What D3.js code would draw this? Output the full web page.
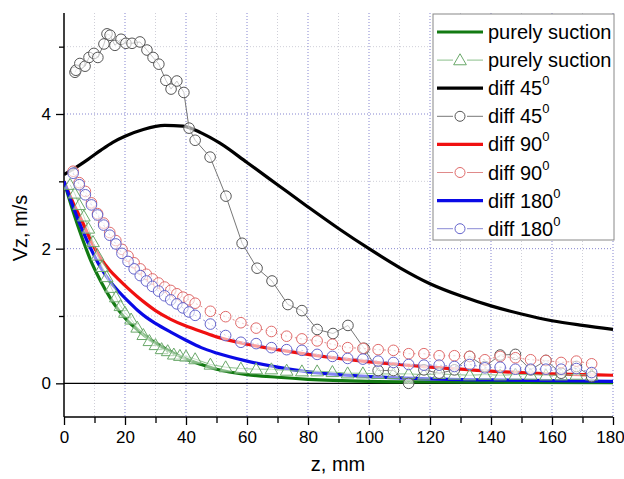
<!DOCTYPE html>
<html><head><meta charset="utf-8">
<script src="https://cdn.jsdelivr.net/npm/d3@7/dist/d3.min.js"></script>
<style>body{margin:0;background:#fff}svg{display:block;font-family:"Liberation Sans",Arial,sans-serif}</style>
</head><body><svg id="c" width="624" height="479"></svg>
<script>
// ---- data ----
const xTicks = [0,20,40,60,80,100,120,140,160,180];
const yTicks = [0,2,4];
const legendLabels = ["purely suction","purely suction","diff 45","diff 45","diff 90","diff 90","diff 180","diff 180"];
const legendSup = ["","","0","0","0","0","0","0"];

// solid model curves
const suctionLineZ = [0,3,6,9,12,15,18,21,24,27,30,35,40,45,50,60,70,80,100,120,150,180];
const suctionLineV = [3.0,2.55,2.15,1.8,1.52,1.28,1.08,0.92,0.8,0.69,0.6,0.47,0.36,0.28,0.21,0.13,0.09,0.06,0.03,0.02,0.012,0.01];
const diff45LineZ = [0,3,8,12,16,20,26,33,39,45,51,60,70,80,90,100,110,120,130,140,150,160,170,180];
const diff45LineV = [3.1,3.18,3.33,3.46,3.58,3.67,3.77,3.83,3.82,3.72,3.57,3.28,2.95,2.62,2.3,2.0,1.72,1.48,1.3,1.15,1.03,0.93,0.86,0.8];
const diff90LineZ = [0,3,6,9,12,15,18,21,24,27,30,35,40,45,50,60,70,80,90,100,110,120,130,140,150,160,170,180];
const diff90LineV = [3.0,2.68,2.4,2.1,1.86,1.68,1.54,1.41,1.29,1.18,1.08,0.95,0.85,0.77,0.69,0.58,0.5,0.43,0.37,0.32,0.28,0.24,0.21,0.18,0.16,0.14,0.13,0.12];
const diff180LineZ = [0,3,6,9,12,15,18,21,24,27,30,35,40,45,50,60,70,80,90,100,110,120,140,160,180];
const diff180LineV = [3.0,2.62,2.28,1.98,1.72,1.52,1.36,1.22,1.09,0.98,0.89,0.76,0.64,0.53,0.45,0.33,0.24,0.17,0.13,0.1,0.08,0.065,0.05,0.04,0.03];

// measured points
const suctionPtsZ = [2,3.5,5,6.5,8,9.5,11,12.5,14,15.5,17,18.5,20,22,24,26,28,30,32,34,36,38,40,43,48,53,58,63,68,73,78,83,88,93,98,103,108,113,118,123,128,133,138,143,148,153,158,163,168,173];
const suctionPtsV = [2.95,2.82,2.65,2.48,2.3,2.1,1.9,1.73,1.58,1.42,1.28,1.15,1.05,0.95,0.83,0.72,0.63,0.57,0.51,0.48,0.43,0.41,0.4,0.36,0.28,0.24,0.22,0.21,0.21,0.19,0.18,0.18,0.17,0.15,0.15,0.14,0.14,0.14,0.13,0.14,0.13,0.12,0.13,0.12,0.13,0.13,0.12,0.12,0.13,0.12];
const diff45PtsZ = [3.6,3.9,5.2,6.9,8.2,9.8,11.1,13.1,14.1,15.1,16.7,18.7,20.3,22.3,24.9,27.2,29.2,31.1,33.4,35.1,37.0,39.3,41.0,43.0,47.9,53.1,58.4,63.3,68.2,73.4,78.0,83.0,88.2,93.1,98.4,103,108,113,118,123,128,133,138,143,148,153,158,163,168,173];
const diff45PtsV = [4.62,4.65,4.75,4.71,4.84,4.9,4.84,5.04,5.19,5.17,5.02,5.11,5.05,5.05,5.07,4.95,4.84,4.74,4.5,4.37,4.49,4.32,3.79,3.61,3.36,2.78,2.08,1.71,1.52,1.17,1.08,0.8,0.74,0.86,0.52,0.19,0.19,0.0,0.2,0.15,0.2,0.4,0.25,0.42,0.43,0.2,0.34,0.15,0.25,0.1];
const diff90PtsZ = [3,5,7,9,11,13,15,17,19,21,23,25,27,29,31,33,35,37,39,41,43,48,53,58,63,68,73,78,83,88,93,98,103,108,113,118,123,128,133,138,143,148,153,158,163,168,173];
const diff90PtsV = [3.15,2.98,2.85,2.68,2.52,2.38,2.24,2.12,1.99,1.89,1.79,1.7,1.62,1.55,1.49,1.43,1.38,1.33,1.28,1.24,1.19,1.07,0.99,0.9,0.82,0.77,0.7,0.66,0.63,0.58,0.53,0.52,0.5,0.49,0.44,0.44,0.41,0.41,0.4,0.35,0.4,0.38,0.35,0.34,0.31,0.33,0.29];
const diff180PtsZ = [3,5,7,9,11,13,15,17,19,21,23,25,27,29,31,33,35,37,39,41,43,48,53,58,63,68,73,78,83,88,93,98,103,108,113,118,123,128,133,138,143,148,153,158,163,168,173];
const diff180PtsV = [3.12,2.95,2.8,2.65,2.5,2.35,2.2,2.07,1.93,1.81,1.7,1.6,1.52,1.44,1.37,1.3,1.24,1.18,1.12,1.06,1.01,0.88,0.71,0.61,0.59,0.53,0.5,0.49,0.43,0.4,0.37,0.36,0.33,0.31,0.28,0.27,0.27,0.25,0.28,0.23,0.24,0.21,0.21,0.21,0.21,0.22,0.16];

// ---- layout ----
const svg = d3.select("#c");
const L = 64, R = 613, T = 13, B = 417;
const x = d3.scaleLinear().domain([0,180]).range([L,R]);
const y = d3.scaleLinear().domain([-0.5,5.5]).range([B,T]);
const zip = (zs,vs) => zs.map((z,i)=>({z, v:vs[i]}));

svg.append("defs").append("clipPath").attr("id","clip")
  .append("rect").attr("x",L).attr("y",T).attr("width",R-L).attr("height",B-T);

// grid
const g = svg.append("g");
d3.range(10,180,20).forEach(v=>g.append("line").attr("x1",x(v)).attr("x2",x(v)).attr("y1",T).attr("y2",B)
  .attr("stroke","#cfcfd8").attr("stroke-width",1).attr("stroke-dasharray","1,2"));
[1,3,5].forEach(v=>g.append("line").attr("x1",L).attr("x2",R).attr("y1",y(v)).attr("y2",y(v))
  .attr("stroke","#cfcfd8").attr("stroke-width",1).attr("stroke-dasharray","1,2"));
d3.range(20,181,20).forEach(v=>g.append("line").attr("x1",x(v)).attr("x2",x(v)).attr("y1",T).attr("y2",B)
  .attr("stroke","#8585d0").attr("stroke-width",1).attr("stroke-dasharray","1,2"));
[2,4].forEach(v=>g.append("line").attr("x1",L).attr("x2",R).attr("y1",y(v)).attr("y2",y(v))
  .attr("stroke","#8585d0").attr("stroke-width",1).attr("stroke-dasharray","1,2"));
// zero line
g.append("line").attr("x1",L).attr("x2",R).attr("y1",y(0)).attr("y2",y(0)).attr("stroke","#000").attr("stroke-width",1.2);

// axes
const xAxis = d3.axisBottom(x).tickValues(xTicks).tickSize(8).tickPadding(6).tickFormat(d3.format("d"));
const ax = svg.append("g").attr("transform",`translate(0,${B})`).call(xAxis);
ax.selectAll("line").attr("stroke","#000").attr("stroke-width",1.3);
ax.select(".domain").attr("d",`M${L},0H${R}`).attr("stroke","#000").attr("stroke-width",1.5);
ax.selectAll("text").attr("font-size",17).attr("font-family","Liberation Sans, Arial").attr("fill","#000");
ax.selectAll(".tick").filter(d=>d===180).select("text").attr("dx",-3);
const axm = svg.append("g").attr("transform",`translate(0,${B})`)
  .call(d3.axisBottom(x).tickValues(d3.range(10,180,20)).tickSize(6).tickFormat(""));
axm.select(".domain").remove();
axm.selectAll("line").attr("stroke","#000").attr("stroke-width",1.3);

const yAxis = d3.axisLeft(y).tickValues(yTicks).tickSize(8).tickPadding(5).tickFormat(d3.format("d"));
const ay = svg.append("g").attr("transform",`translate(${L},0)`).call(yAxis);
ay.select(".domain").attr("d",`M0,${T}V${B}`).attr("stroke","#000").attr("stroke-width",1.5);
ay.selectAll("line").attr("stroke","#000").attr("stroke-width",1.3);
ay.selectAll("text").attr("font-size",17).attr("font-family","Liberation Sans, Arial").attr("fill","#000");
const aym = svg.append("g").attr("transform",`translate(${L},0)`)
  .call(d3.axisLeft(y).tickValues([1,3,5]).tickSize(5).tickFormat(""));
aym.select(".domain").remove();
aym.selectAll("line").attr("stroke","#000").attr("stroke-width",1.3);

// titles
svg.append("text").attr("x",338).attr("y",471).attr("text-anchor","middle").attr("font-size",20).text("z, mm");
svg.append("text").attr("transform","translate(27,228) rotate(-90)").attr("text-anchor","middle").attr("font-size",20).text("Vz, m/s");

// series
const plot = svg.append("g").attr("clip-path","url(#clip)");
const solid = d3.line().x(d=>x(d.z)).y(d=>y(d.v)).curve(d3.curveMonotoneX);
const straight = d3.line().x(d=>x(d.z)).y(d=>y(d.v));

const lines = [
  {z:suctionLineZ, v:suctionLineV, c:"#127a12"},
  {z:diff45LineZ, v:diff45LineV, c:"#000000"},
  {z:diff90LineZ, v:diff90LineV, c:"#f01010"},
  {z:diff180LineZ, v:diff180LineV, c:"#0a0ae6"}
];
lines.forEach(s=>plot.append("path").datum(zip(s.z,s.v)).attr("d",solid)
  .attr("fill","none").attr("stroke",s.c).attr("stroke-width",3.2));

const tri = d3.symbol().type(d3.symbolTriangle).size(70);
const pts = [
  {z:suctionPtsZ, v:suctionPtsV, c:"#6aa86a", lc:"#8cc08c", dash:null, m:"tri"},
  {z:diff45PtsZ, v:diff45PtsV, c:"#555555", lc:"#777777", dash:null, m:"circ"},
  {z:diff90PtsZ, v:diff90PtsV, c:"#e06a6a", lc:"#e08a8a", dash:"2,3", m:"circ"},
  {z:diff180PtsZ, v:diff180PtsV, c:"#6464cc", lc:"#8a8ad6", dash:"2,3", m:"circ"}
];
pts.forEach(s=>{
  const d = zip(s.z,s.v);
  const p = plot.append("path").datum(d).attr("d",straight).attr("fill","none")
    .attr("stroke",s.lc).attr("stroke-width",1);
  if(s.dash) p.attr("stroke-dasharray",s.dash);
  const gg = plot.append("g");
  if(s.m==="circ"){
    gg.selectAll("circle").data(d).join("circle").attr("cx",e=>x(e.z)).attr("cy",e=>y(e.v)).attr("r",5.3)
      .attr("fill","#fff").attr("fill-opacity",0.6).attr("stroke",s.c).attr("stroke-width",1);
  } else {
    gg.selectAll("path").data(d).join("path").attr("d",tri)
      .attr("transform",e=>`translate(${x(e.z)},${y(e.v)+1})`)
      .attr("fill","#fff").attr("fill-opacity",0.5).attr("stroke",s.c).attr("stroke-width",1);
  }
});

// legend
const lg = svg.append("g");
lg.append("rect").attr("x",433).attr("y",14).attr("width",181).attr("height",226)
  .attr("fill","#fff").attr("stroke","#888").attr("stroke-width",1);
const legStyle = [
  {type:"solid", c:"#127a12"},
  {type:"tri", c:"#6aa86a", lc:"#8cc08c"},
  {type:"solid", c:"#000"},
  {type:"circ", c:"#555", lc:"#777"},
  {type:"solid", c:"#f01010"},
  {type:"circ", c:"#e06a6a", lc:"#e08a8a"},
  {type:"solid", c:"#0a0ae6"},
  {type:"circ", c:"#6464cc", lc:"#8a8ad6"}
];
legendLabels.forEach((lab,i)=>{
  const cy = 32 + i*28.1;
  const st = legStyle[i];
  if(st.type==="solid"){
    lg.append("line").attr("x1",437).attr("x2",483).attr("y1",cy).attr("y2",cy).attr("stroke",st.c).attr("stroke-width",3.2);
  } else {
    lg.append("line").attr("x1",437).attr("x2",453).attr("y1",cy).attr("y2",cy).attr("stroke",st.lc).attr("stroke-width",1);
    lg.append("line").attr("x1",467).attr("x2",483).attr("y1",cy).attr("y2",cy).attr("stroke",st.lc).attr("stroke-width",1);
    if(st.type==="circ") lg.append("circle").attr("cx",460).attr("cy",cy).attr("r",5).attr("fill","#fff").attr("stroke",st.c);
    else lg.append("path").attr("d",tri).attr("transform",`translate(460,${cy+1})`).attr("fill","#fff").attr("stroke",st.c);
  }
  const t = lg.append("text").attr("x",488).attr("y",cy+7).attr("font-size",20).attr("fill","#000").text(lab);
  if(legendSup[i]) t.append("tspan").attr("dy",-10).attr("font-size",13).text(legendSup[i]);
});
</script></body></html>
